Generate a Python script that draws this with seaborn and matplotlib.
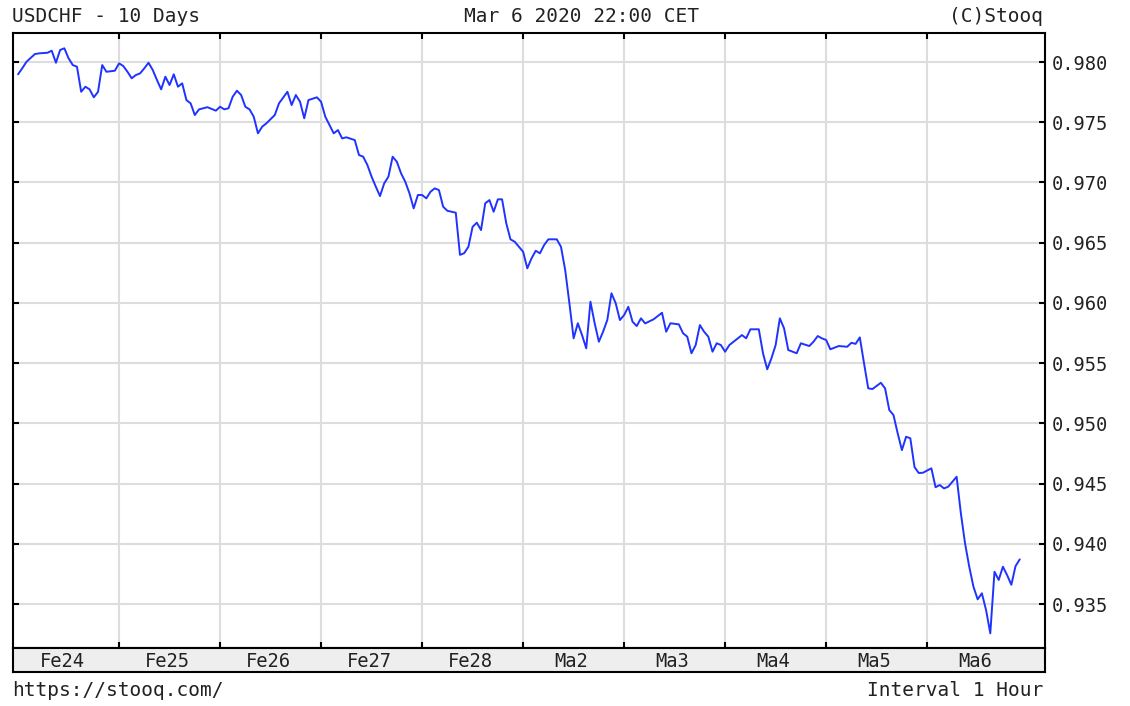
# <=============================================================>
#  USDCHF - 10 Days (Stooq style hourly chart)
# <=============================================================>
import numpy as np
import pandas as pd
import seaborn as sns
import matplotlib.pyplot as plt
# <=============================================================>
#  Data: hour index since Fe24 00:00 and price
# <=============================================================>
HOURS = [
    0, 1, 2, 4, 5, 7, 8, 9, 10, 11, 12, 13, 14, 15, 16, 17, 18, 19, 20, 21,
    23, 24, 25, 26, 27, 28, 29, 30, 31, 32, 33, 34, 35, 36, 37, 38, 39, 40,
    41, 42, 43, 45, 47, 48, 49, 50, 51, 52, 53, 54, 55, 56, 57, 58, 59, 61,
    62, 64, 65, 66, 67, 68, 69, 71, 72, 73, 74, 75, 76, 77, 78, 80, 81, 82,
    83, 84, 85, 86, 87, 88, 89, 90, 91, 92, 93, 94, 95, 96, 97, 98, 99, 100,
    101, 102, 104, 105, 106, 107, 108, 109, 110, 111, 112, 113, 114, 115,
    116, 117, 118, 120, 121, 122, 123, 124, 125, 126, 128, 129, 130, 131,
    132, 133, 134, 135, 136, 137, 138, 139, 140, 141, 142, 143, 144, 145,
    146, 147, 148, 149, 151, 153, 154, 155, 157, 158, 159, 160, 161, 162,
    163, 164, 165, 166, 167, 168, 169, 170, 172, 173, 174, 176, 177, 178,
    179, 180, 181, 182, 183, 185, 186, 188, 189, 190, 191, 192, 193, 195,
    197, 198, 199, 200, 201, 202, 203, 205, 206, 207, 208, 209, 210, 211,
    212, 213, 214, 215, 217, 218, 219, 220, 221, 223, 224, 225, 226, 227,
    228, 229, 230, 231, 232, 233, 234, 235, 236, 237, 238,
]
PRICES = [
    0.97898, 0.97948, 0.98002, 0.98066, 0.98072, 0.98077, 0.98094, 0.97994,
    0.98100, 0.98114, 0.98031, 0.97975, 0.97961, 0.97753, 0.97795, 0.97773,
    0.97707, 0.97753, 0.97975, 0.97919, 0.97928, 0.97989, 0.97967, 0.97919,
    0.97865, 0.97892, 0.97906, 0.97948, 0.97994, 0.97934, 0.97851, 0.97773,
    0.97878, 0.97809, 0.97898, 0.97795, 0.97823, 0.97684, 0.97657, 0.97560,
    0.97607, 0.97625, 0.97596, 0.97629, 0.97607, 0.97616, 0.97712, 0.97762,
    0.97726, 0.97629, 0.97607, 0.97546, 0.97408, 0.97463, 0.97491, 0.97560,
    0.97657, 0.97753, 0.97643, 0.97726, 0.97670, 0.97533, 0.97684, 0.97707,
    0.97670, 0.97546, 0.97477, 0.97408, 0.97435, 0.97366, 0.97375, 0.97352,
    0.97228, 0.97214, 0.97145, 0.97048, 0.96965, 0.96887, 0.96993, 0.97048,
    0.97214, 0.97172, 0.97076, 0.97006, 0.96910, 0.96785, 0.96896, 0.96896,
    0.96868, 0.96923, 0.96951, 0.96937, 0.96799, 0.96765, 0.96749, 0.96399,
    0.96413, 0.96466, 0.96632, 0.96666, 0.96605, 0.96827, 0.96854, 0.96757,
    0.96860, 0.96860, 0.96661, 0.96528, 0.96508, 0.96425, 0.96287, 0.96370,
    0.96433, 0.96412, 0.96481, 0.96528, 0.96528, 0.96466, 0.96273, 0.95997,
    0.95706, 0.95831, 0.95733, 0.95623, 0.96010, 0.95831, 0.95678, 0.95761,
    0.95858, 0.96080, 0.95997, 0.95858, 0.95899, 0.95968, 0.95844, 0.95808,
    0.95872, 0.95830, 0.95864, 0.95918, 0.95761, 0.95831, 0.95822, 0.95748,
    0.95720, 0.95582, 0.95650, 0.95816, 0.95761, 0.95720, 0.95595, 0.95665,
    0.95650, 0.95595, 0.95650, 0.95678, 0.95733, 0.95706, 0.95781, 0.95781,
    0.95582, 0.95449, 0.95540, 0.95650, 0.95872, 0.95789, 0.95609, 0.95582,
    0.95665, 0.95642, 0.95678, 0.95725, 0.95706, 0.95692, 0.95615, 0.95642,
    0.95636, 0.95669, 0.95660, 0.95714, 0.95499, 0.95291, 0.95285, 0.95337,
    0.95291, 0.95111, 0.95069, 0.94917, 0.94778, 0.94889, 0.94876, 0.94637,
    0.94588, 0.94590, 0.94627, 0.94470, 0.94488, 0.94460, 0.94474, 0.94557,
    0.94256, 0.94004, 0.93810, 0.93644, 0.93539, 0.93589, 0.93450, 0.93257,
    0.93768, 0.93700, 0.93810, 0.93740, 0.93660, 0.93815, 0.93871,
]
DAY_LABELS = ['Fe24', 'Fe25', 'Fe26', 'Fe27', 'Fe28',
              'Ma2', 'Ma3', 'Ma4', 'Ma5', 'Ma6']
Y_TICKS = [0.935, 0.940, 0.945, 0.950, 0.955, 0.960, 0.965, 0.970, 0.975, 0.980]
# <=============================================================>
#  Style
# <=============================================================>
sns.set_style('white')
plt.rcParams['font.family'] = ['DejaVu Sans Mono']
FS = 13.5
LINE_COLOR = '#1f33ff'
GRID_COLOR = '#dddddd'
BAND_COLOR = '#eeeeee'
TEXT_COLOR = '#222222'
XLIM = (-1.2, 244.0)
YLIM = (0.93135, 0.98241)
# <=============================================================>
#  Figure & axes
# <=============================================================>
fig = plt.figure(figsize=(11.3, 7.06), dpi=100)
ax = fig.add_axes([13 / 1130, 1 - 648 / 706, 1032 / 1130, 615 / 706])
ax_band = fig.add_axes([13 / 1130, 1 - 672 / 706, 1032 / 1130, 24 / 706])
df = pd.DataFrame({'hour': HOURS, 'price': PRICES})
sns.lineplot(data=df, x='hour', y='price', ax=ax, color=LINE_COLOR,
             linewidth=1.4, estimator=None, zorder=3)
ax.set_xlim(*XLIM)
ax.set_ylim(*YLIM)
day_edges = np.arange(24, 24 * len(DAY_LABELS), 24)
ax.set_xticks(day_edges)
ax.set_yticks(Y_TICKS)
ax.set_yticklabels([f'{v:.3f}' for v in Y_TICKS], fontsize=FS)
ax.set_xticklabels([])
ax.grid(True, color=GRID_COLOR, linewidth=1.5, zorder=0)
ax.tick_params(axis='x', direction='in', top=True, bottom=True, length=4,
               width=1.5, color='black')
ax.tick_params(axis='y', direction='in', left=True, right=True, length=4,
               width=1.5, color='black', labelleft=False, labelright=True,
               pad=5, labelcolor=TEXT_COLOR)
ax.set_xlabel('')
ax.set_ylabel('')
for s in ax.spines.values():
    s.set_color('black')
    s.set_linewidth(1.5)
# <=============================================================>
#  Date band below chart
# <=============================================================>
ax_band.set_facecolor(BAND_COLOR)
ax_band.set_xlim(*XLIM)
ax_band.set_ylim(0, 1)
ax_band.set_xticks([])
ax_band.set_yticks([])
for s in ax_band.spines.values():
    s.set_color('black')
    s.set_linewidth(1.5)
for i, lab in enumerate(DAY_LABELS):
    xpos = 10.5 if i == 0 else 24 * i + 11.5
    ax_band.text(xpos, 0.45, lab, ha='center', va='center',
                 fontsize=FS, color=TEXT_COLOR)
# <=============================================================>
#  Header & footer texts
# <=============================================================>
fig.text(12 / 1130, 1 - 16 / 706, 'USDCHF - 10 Days', ha='left', va='center',
         fontsize=FS + 0.5, color=TEXT_COLOR)
fig.text(581 / 1130, 1 - 16 / 706, 'Mar 6 2020 22:00 CET', ha='center',
         va='center', fontsize=FS + 0.5, color=TEXT_COLOR)
fig.text(1043 / 1130, 1 - 16 / 706, '(C)Stooq', ha='right', va='center',
         fontsize=FS + 0.5, color=TEXT_COLOR)
fig.text(12 / 1130, 1 - 690 / 706, 'https://stooq.com/', ha='left',
         va='center', fontsize=FS + 0.5, color=TEXT_COLOR)
fig.text(1043 / 1130, 1 - 690 / 706, 'Interval 1 Hour', ha='right',
         va='center', fontsize=FS + 0.5, color=TEXT_COLOR)
fig.savefig('out.png', dpi=100, facecolor='white')
plt.close(fig)
